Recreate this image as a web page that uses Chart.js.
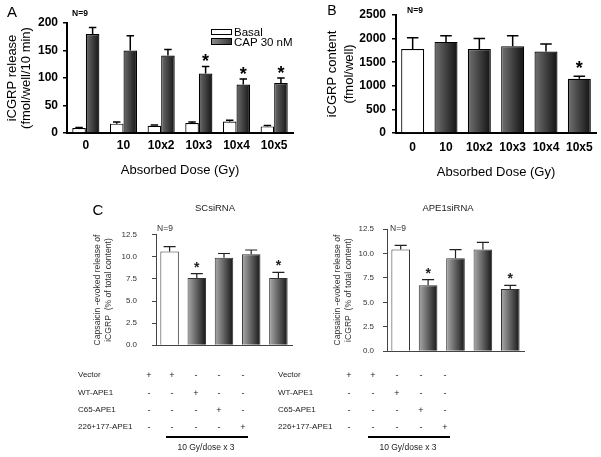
<!DOCTYPE html>
<html>
<head>
<meta charset="utf-8">
<title>iCGRP release and content after irradiation</title>
<script src="https://cdn.jsdelivr.net/npm/chart.js@4.4.0/dist/chart.umd.min.js"></script>
<style>
  html, body { margin: 0; padding: 0; background: #fff; }
  body { width: 601px; height: 457px; position: relative; overflow: hidden;
         font-family: "Liberation Sans", Arial, sans-serif; color: #000; }
  canvas { position: absolute; }
  .txt { position: absolute; white-space: nowrap; will-change: transform; }
  .box { position: absolute; box-sizing: border-box; border: 1px solid #000; }
  .rule { position: absolute; height: 2px; background: #000; }
</style>
</head>
<body>
<canvas id="chartA" width="300" height="190" style="left:0;top:0"></canvas>
<canvas id="chartB" width="301" height="190" style="left:300px;top:0"></canvas>
<canvas id="chartC1" width="240" height="150" style="left:60px;top:215px"></canvas>
<canvas id="chartC2" width="240" height="150" style="left:300px;top:215px"></canvas>
<script>
// ---- Data ----

const doseLabels = ['0', '10', '10x2', '10x3', '10x4', '10x5'];
const seriesNames = ['Basal', 'CAP 30 nM'];

// panel A: iCGRP release (fmol/well/10 min)
const basalRelease = [9, 17, 13, 18, 21, 12];
const basalErr = [1, 3, 1.5, 2, 2, 1.5];
const capRelease = [180, 150, 141, 108, 88, 91];
const capErr = [12, 27, 11, 13, 10, 9];
const capSig = [0, 0, 0, 1, 1, 1];

// panel B: iCGRP content (fmol/well)
const contentVals = [1780, 1930, 1780, 1840, 1725, 1150];
const contentErr = [240, 130, 220, 220, 160, 50];
const contentSig = [0, 0, 0, 0, 0, 1];

// panel C: capsaicin-evoked release (% of total content)
const cBars = ['Vector', 'Vector + IR', 'WT-APE1 + IR', 'C65-APE1 + IR', '226+177-APE1 + IR'];
const scVals = [10.6, 7.6, 9.9, 10.3, 7.6];
const scErr = [0.57, 0.5, 0.48, 0.48, 0.64];
const apeVals = [10.4, 6.75, 9.5, 10.4, 6.35];
const apeErr = [0.42, 0.57, 0.89, 0.73, 0.38];
const cSig = [0, 1, 0, 0, 1];

const treatments = ['Vector', 'WT-APE1', 'C65-APE1', '226+177-APE1'];
const signs = [
  ['+', '+', '-', '-', '-'],
  ['-', '-', '+', '-', '-'],
  ['-', '-', '-', '+', '-'],
  ['-', '-', '-', '-', '+']
];
const doseNote = '10 Gy/dose x 3';

const FONT = '"Liberation Sans", Arial, sans-serif';

// ---- Helpers ----

// horizontal grey-to-black fill for each bar, computed from the laid out x scale
function barFill(light, dark, nSets, catPct, skipFirst) {
  return c => {
    if (c.type !== 'data') return dark;
    if (skipFirst && c.dataIndex === 0) return '#fff';
    const chart = c.chart;
    const xs = chart.scales.x;
    if (!xs) return dark;
    const step = xs.getPixelForValue(1) - xs.getPixelForValue(0);
    const grp = step * catPct;
    const w = grp / nSets;
    const cx = xs.getPixelForValue(c.dataIndex) + (c.datasetIndex - (nSets - 1) / 2) * w;
    if (!isFinite(cx) || !isFinite(w) || w <= 0) return dark;
    const g = chart.ctx.createLinearGradient(cx - w / 2, 0, cx + w / 2, 0);
    g.addColorStop(0, light);
    g.addColorStop(1, dark);
    return g;
  };
}

const errorBars = {
  id: 'errorBars',
  afterDatasetsDraw(chart, args, opts) {
    const { ctx } = chart;
    const ys = chart.scales.y;
    chart.data.datasets.forEach((ds, di) => {
      if (!ds.errors) return;
      const meta = chart.getDatasetMeta(di);
      meta.data.forEach((bar, i) => {
        const top = ys.getPixelForValue(ds.data[i] + ds.errors[i]);
        const half = bar.width * opts.cap / 2;
        ctx.save();
        ctx.strokeStyle = opts.color;
        ctx.lineWidth = opts.width;
        ctx.beginPath();
        ctx.moveTo(bar.x, bar.y);
        ctx.lineTo(bar.x, top);
        ctx.moveTo(bar.x - half, top);
        ctx.lineTo(bar.x + half, top);
        ctx.stroke();
        if (ds.marks && ds.marks[i]) {
          ctx.fillStyle = opts.color;
          ctx.font = opts.star;
          ctx.textAlign = 'center';
          ctx.textBaseline = 'alphabetic';
          const m = ctx.measureText('*');
          const cy = top - opts.starGap;
          ctx.fillText('*', bar.x, cy + (m.actualBoundingBoxAscent - m.actualBoundingBoxDescent) / 2);
        }
        ctx.restore();
      });
    });
  }
};

function panelOptions(o) {
  return {
    responsive: false,
    animation: false,
    events: [],
    layout: { padding: o.pad },
    plugins: {
      legend: { display: false },
      tooltip: { enabled: false },
      errorBars: o.err
    },
    scales: {
      x: {
        grid: { display: false, drawTicks: false },
        border: { display: true, color: o.axisColor, width: o.axisWidth },
        ticks: { display: !!o.xTitle, color: '#000', font: o.tickFont, padding: o.xPad, maxRotation: 0, autoSkip: false },
        title: o.xTitle
          ? { display: true, text: o.xTitle, color: '#000', font: o.xTitleFont, padding: { top: 0, bottom: o.xTitlePad } }
          : { display: false },
        afterFit: s => { s.height = o.xHeight; }
      },
      y: {
        min: 0,
        max: o.yMax,
        grid: { display: true, drawOnChartArea: false, drawTicks: true, tickLength: o.tickLen, color: o.axisColor, lineWidth: o.tickWidth },
        border: { display: true, color: o.axisColor, width: o.axisWidth },
        ticks: { stepSize: o.yStep, color: o.tickColor, font: o.tickFont, padding: o.yPad, callback: o.yFmt },
        title: { display: true, text: o.yTitle, color: o.tickColor, font: o.yTitleFont, padding: { top: o.yTitlePad, bottom: 0 } },
        afterFit: s => { s.width = o.yWidth; }
      }
    }
  };
}

// ---- Panel A ----

new Chart(document.getElementById('chartA'), {
  type: 'bar',
  data: {
    labels: doseLabels,
    datasets: [
      { label: seriesNames[0], data: basalRelease, errors: basalErr, backgroundColor: '#fff',
        borderColor: '#000', borderWidth: 1.2, categoryPercentage: 0.72, barPercentage: 1 },
      { label: seriesNames[1], data: capRelease, errors: capErr, marks: capSig,
        backgroundColor: barFill('#6c6c6c', '#141414', 2, 0.72, false),
        borderColor: '#000', borderWidth: 1.2, categoryPercentage: 0.72, barPercentage: 1 }
    ]
  },
  options: panelOptions({
    pad: { left: 0, top: 23, right: 7, bottom: 0 },
    axisColor: '#000', axisWidth: 2, tickWidth: 1.5, tickLen: 4, tickColor: '#000',
    tickFont: { family: FONT, size: 12, weight: 'bold' },
    xPad: 5, xHeight: 57, xTitle: 'Absorbed Dose (Gy)', xTitlePad: 12,
    xTitleFont: { family: FONT, size: 13 },
    yMax: 200, yStep: 50, yPad: 5, yWidth: 67, yFmt: v => String(v),
    yTitle: ['iCGRP release', '(fmol/well/10 min)'], yTitlePad: 5,
    yTitleFont: { family: FONT, size: 13, lineHeight: '14px' },
    err: { cap: 0.55, width: 1.5, color: '#000', star: 'bold 18px ' + FONT, starGap: 9 }
  }),
  plugins: [errorBars]
});

// ---- Panel B ----

new Chart(document.getElementById('chartB'), {
  type: 'bar',
  data: {
    labels: doseLabels,
    datasets: [
      { label: 'iCGRP content', data: contentVals, errors: contentErr, marks: contentSig,
        backgroundColor: barFill('#727272', '#111111', 1, 0.69, true),
        borderColor: '#000', borderWidth: 1.2, categoryPercentage: 0.69, barPercentage: 1 }
    ]
  },
  options: panelOptions({
    pad: { left: 0, top: 15, right: 5, bottom: 0 },
    axisColor: '#000', axisWidth: 2, tickWidth: 1.5, tickLen: 4, tickColor: '#000',
    tickFont: { family: FONT, size: 12, weight: 'bold' },
    xPad: 7, xHeight: 57, xTitle: 'Absorbed Dose (Gy)', xTitlePad: 10,
    xTitleFont: { family: FONT, size: 13 },
    yMax: 2500, yStep: 500, yPad: 6, yWidth: 96, yFmt: v => String(v),
    yTitle: ['iCGRP content', '(fmol/well)'], yTitlePad: 24,
    yTitleFont: { family: FONT, size: 13, lineHeight: '17px' },
    err: { cap: 0.5, width: 1.5, color: '#000', star: 'bold 18px ' + FONT, starGap: 12 }
  }),
  plugins: [errorBars]
});

// ---- Panel C ----

function panelC(id, vals, errs, yWidth, yPad, padRight) {
  new Chart(document.getElementById(id), {
    type: 'bar',
    data: {
      labels: cBars,
      datasets: [
        { label: 'Capsaicin-evoked release', data: vals, errors: errs, marks: cSig,
          backgroundColor: barFill('#ababab', '#161616', 1, 0.68, true),
          borderColor: '#333', borderWidth: 1, categoryPercentage: 0.68, barPercentage: 1 }
      ]
    },
    options: panelOptions({
      pad: { left: 0, top: 14, right: padRight, bottom: 0 },
      axisColor: '#444', axisWidth: 1, tickWidth: 1, tickLen: 4, tickColor: '#333',
      tickFont: { family: FONT, size: 8 },
      xHeight: 5, xTitle: null,
      yMax: 12.5, yStep: 2.5, yPad: yPad, yWidth: yWidth, yFmt: v => v.toFixed(1),
      yTitle: ['Capsaicin -evoked release of', 'iCGRP  (% of total content)'], yTitlePad: 32.5,
      yTitleFont: { family: FONT, size: 8.6, lineHeight: '11px' },
      err: { cap: 0.65, width: 1.2, color: '#222', star: 'bold 14px ' + FONT, starGap: 9 }
    }),
    plugins: [errorBars]
  });
}

panelC('chartC1', scVals, scErr, 96, 15, 8);
panelC('chartC2', apeVals, apeErr, 87, 9, 16);

// ---- Text overlays (whole-pixel positions) ----

function addText(text, x, y, size, opts) {
  opts = opts || {};
  const el = document.createElement('div');
  el.className = 'txt';
  el.textContent = text;
  const h = Math.round(size * 1.2);
  el.style.fontSize = size + 'px';
  el.style.lineHeight = h + 'px';
  el.style.height = h + 'px';
  el.style.top = Math.round(y - h / 2) + 'px';
  if (opts.left) {
    el.style.left = Math.round(x) + 'px';
  } else {
    el.style.left = Math.round(x - 60) + 'px';
    el.style.width = '120px';
    el.style.textAlign = 'center';
  }
  if (opts.bold) el.style.fontWeight = 'bold';
  if (opts.color) el.style.color = opts.color;
  document.body.appendChild(el);
  return el;
}

function addBox(x, y, w, h, bg) {
  const el = document.createElement('div');
  el.className = 'box';
  Object.assign(el.style, { left: x + 'px', top: y + 'px', width: w + 'px', height: h + 'px', background: bg });
  document.body.appendChild(el);
}

function addRule(x1, x2, y) {
  const el = document.createElement('div');
  el.className = 'rule';
  Object.assign(el.style, { left: x1 + 'px', top: y + 'px', width: (x2 - x1) + 'px' });
  document.body.appendChild(el);
}

// panel letters and n
addText('A', 12, 12, 15);
addText('B', 332, 10, 14);
addText('C', 98, 210, 15);
addText('N=9', 80, 13, 8.5, { bold: true });
addText('N=9', 415, 10, 8.5, { bold: true });
addText('N=9', 165, 228, 8.5, { color: '#333' });
addText('N=9', 398, 228, 8.5, { color: '#333' });

// legend for panel A
addBox(211, 29, 21, 6, '#fff');
addBox(211, 38, 21, 7, 'linear-gradient(to right, #8a8a8a, #3a3a3a)');
addText(seriesNames[0], 234, 32, 11.5, { left: true });
addText(seriesNames[1], 234, 42, 11.5, { left: true });

// subtitles of panel C
addText('SCsiRNA', 215, 207, 9.5, { color: '#222' });
addText('APE1siRNA', 448, 207, 9.5, { color: '#222' });

// treatment tables under panel C
const rowY = [375, 393, 410, 427];
[{ labelX: 78, colX: 149, step: 23.4, ruleX: [166, 248], noteX: 206 },
 { labelX: 278, colX: 349, step: 24, ruleX: [368, 450], noteX: 408 }].forEach(t => {
  treatments.forEach((name, r) => {
    addText(name, t.labelX, rowY[r], 8, { left: true, color: '#222' });
    signs[r].forEach((s, j) => addText(s, t.colX + j * t.step, rowY[r], 9, { color: '#222' }));
  });
  addRule(t.ruleX[0], t.ruleX[1], 436);
  addText(doseNote, t.noteX, 447, 8.5, { color: '#222' });
});
</script>
</body>
</html>
